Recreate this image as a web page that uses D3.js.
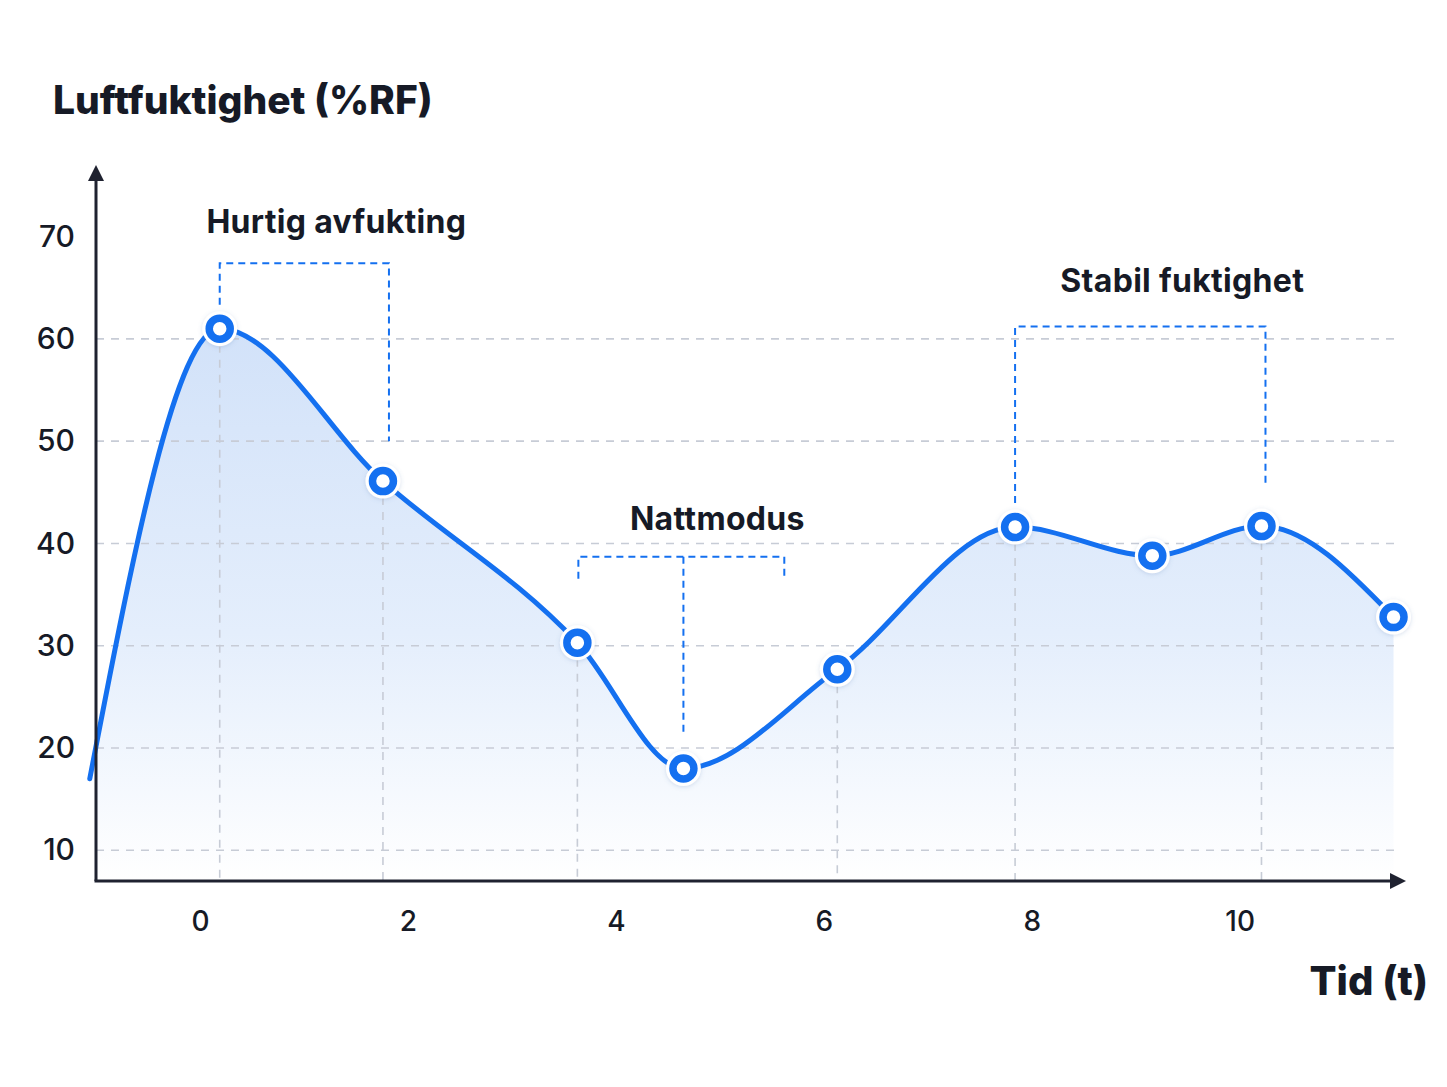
<!DOCTYPE html>
<html>
<head>
<meta charset="utf-8">
<script src="https://cdn.jsdelivr.net/npm/d3@7"></script>
<style>
  body { margin: 0; background: #fff; }
  svg { display: block; }
  text { font-family: Inter, "Noto Sans", sans-serif; fill: #161a26; }
</style>
</head>
<body>
<div id="chart"></div>
<script>
// data (time in hours, relative humidity in %)
const times = [-1.06, 0.19, 1.76, 3.63, 4.65, 6.13, 7.84, 9.16, 10.21, 11.48];
const humidity = [17.0, 61.0, 46.1, 30.3, 18.0, 27.7, 41.6, 38.8, 41.7, 32.8];
const markerIdx = [1, 2, 3, 4, 5, 6, 7, 8, 9];
const dropIdx = [1, 2, 3, 5, 6, 8];   // points with a grey drop line
const xTicks = [0, 2, 4, 6, 8, 10];
const yTicks = [10, 20, 30, 40, 50, 60, 70];
const yGrid = [10, 20, 30, 40, 50, 60];

// annotations: label, first/last point, bracket top value
const notes = [
    {label: "Hurtig avfukting", a: 1, b: 2, top: 67.4, endB: 50, dx: 32, dy: -30},
    {label: "Nattmodus", a: 3, b: 5, top: 38.7, mid: 4, dx: 36, dy: -27},
    {label: "Stabil fuktighet", a: 6, b: 8, top: 61.2, dx: 42, dy: -35}
];

const W = 1447, H = 1087;
const blue = "#1470f0";
const grid = "#c7ccd6";

const svg = d3.select("#chart").append("svg")
    .attr("width", W)
    .attr("height", H);

const x = d3.scaleLinear().domain([-1, 11.6]).range([96, 1406]);
const y = d3.scaleLinear().domain([7, 77]).range([881, 165]);

const pts = times.map((t, i) => ({t: t, v: humidity[i]}));

// gradient for the area
const defs = svg.append("defs");
const grad = defs.append("linearGradient")
    .attr("id", "fade")
    .attr("x1", 0).attr("y1", 0).attr("x2", 0).attr("y2", 1);
grad.append("stop").attr("offset", "0%").attr("stop-color", "#d2e2f9");
grad.append("stop").attr("offset", "55%").attr("stop-color", "#e4eefc");
grad.append("stop").attr("offset", "100%").attr("stop-color", "#ffffff");

const shadow = defs.append("filter").attr("id", "halo")
    .attr("x", "-50%").attr("y", "-50%").attr("width", "200%").attr("height", "200%");
shadow.append("feDropShadow")
    .attr("dx", 0).attr("dy", 1).attr("stdDeviation", 2)
    .attr("flood-color", "#5a7fb5").attr("flood-opacity", 0.25);

svg.append("clipPath").attr("id", "plot")
    .append("rect")
    .attr("x", x(-1)).attr("y", 0)
    .attr("width", W).attr("height", y(7));

// area under the curve
const area = d3.area()
    .x(d => x(d.t))
    .y0(y(7))
    .y1(d => y(d.v))
    .curve(d3.curveMonotoneX);

svg.append("path")
    .datum(pts)
    .attr("d", area)
    .attr("clip-path", "url(#plot)")
    .attr("fill", "url(#fade)");

// horizontal grid
svg.append("g").selectAll("line")
    .data(yGrid)
    .join("line")
    .attr("x1", x(-1)).attr("x2", x(11.55))
    .attr("y1", d => y(d)).attr("y2", d => y(d))
    .attr("stroke", grid)
    .attr("stroke-width", 1.6)
    .attr("stroke-dasharray", "8 7");

// drop lines
svg.append("g").selectAll("line")
    .data(dropIdx.map(i => pts[i]))
    .join("line")
    .attr("x1", d => x(d.t)).attr("x2", d => x(d.t))
    .attr("y1", d => y(d.v) + 16).attr("y2", y(7))
    .attr("stroke", grid)
    .attr("stroke-width", 1.6)
    .attr("stroke-dasharray", "8 7");

// annotation brackets
const bracket = svg.append("g")
    .attr("fill", "none")
    .attr("stroke", blue)
    .attr("stroke-width", 2)
    .attr("stroke-dasharray", "7 5");

notes.forEach(n => {
    const pa = pts[n.a], pb = pts[n.b];
    const yt = y(n.top);
    let xa, xb;
    if (n.mid !== undefined) {
        const pm = pts[n.mid];
        xa = x(pa.t) + 1;
        xb = x(pb.t) - 53;
        bracket.append("path")
            .attr("d", `M${xa},${yt + 22} V${yt} H${xb} V${yt + 22}`);
        bracket.append("path")
            .attr("d", `M${x(pm.t)},${yt} V${y(pm.v) - 32}`);
    } else {
        xa = x(pa.t);
        xb = x(pb.t) + (n.endB ? 6 : 4);
        const yb = n.endB ? y(n.endB) : y(pb.v) - 40;
        bracket.append("path")
            .attr("d", `M${xa},${y(pa.v) - 24} V${yt} H${xb} V${yb}`);
    }
    n.cx = (xa + xb) / 2 + n.dx;
    n.ty = yt + n.dy;
});

svg.append("g").selectAll("text")
    .data(notes)
    .join("text")
    .attr("x", d => d.cx)
    .attr("y", d => d.ty)
    .attr("text-anchor", "middle")
    .attr("font-size", 32)
    .attr("font-weight", 700)
    .attr("letter-spacing", 0.3)
    .text(d => d.label);

// line
const line = d3.line()
    .x(d => x(d.t))
    .y(d => y(d.v))
    .curve(d3.curveMonotoneX);

svg.append("path")
    .datum(pts)
    .attr("d", line)
    .attr("fill", "none")
    .attr("stroke", blue)
    .attr("stroke-width", 5)
    .attr("stroke-linecap", "round");

// markers
const marks = svg.append("g").selectAll("g")
    .data(markerIdx.map(i => pts[i]))
    .join("g")
    .attr("transform", d => `translate(${x(d.t)},${y(d.v)})`);
marks.append("circle")
    .attr("r", 17.5)
    .attr("fill", "#fff")
    .attr("filter", "url(#halo)");
marks.append("circle")
    .attr("r", 10.5)
    .attr("fill", "#fff")
    .attr("stroke", blue)
    .attr("stroke-width", 7.5);

// axes
const axisColor = "#1f2230";
svg.append("line")
    .attr("x1", x(-1)).attr("x2", x(-1))
    .attr("y1", y(7)).attr("y2", y(77) + 8)
    .attr("stroke", axisColor).attr("stroke-width", 3);
svg.append("line")
    .attr("x1", x(-1) - 1.5).attr("x2", x(11.6) - 8)
    .attr("y1", y(7)).attr("y2", y(7))
    .attr("stroke", axisColor).attr("stroke-width", 3);
svg.append("path")
    .attr("d", `M${x(-1)},${y(77)} l-8,16 h16 z`)
    .attr("fill", axisColor);
svg.append("path")
    .attr("d", `M${x(11.6)},${y(7)} l-16,-8 v16 z`)
    .attr("fill", axisColor);

const yAxis = d3.axisLeft(y).tickValues(yTicks).tickSize(0).tickPadding(21);
svg.append("g")
    .attr("transform", `translate(${x(-1)},0)`)
    .call(yAxis)
    .call(g => g.select(".domain").remove())
    .selectAll("text")
    .attr("font-size", 30)
    .attr("font-weight", 500)
    .attr("fill", "#161a26");

const xAxis = d3.axisBottom(x).tickValues(xTicks).tickSize(0).tickPadding(30);
svg.append("g")
    .attr("transform", `translate(0,${y(7)})`)
    .call(xAxis)
    .call(g => g.select(".domain").remove())
    .selectAll("text")
    .attr("font-size", 28)
    .attr("font-weight", 500)
    .attr("fill", "#161a26");

svg.selectAll(".tick text").attr("font-family", "Inter, 'Noto Sans', sans-serif");

// titles
svg.append("text")
    .attr("x", 53).attr("y", 114)
    .attr("font-size", 39)
    .attr("font-weight", 800)
    .text("Luftfuktighet (%RF)");

svg.append("text")
    .attr("x", 1428).attr("y", 995)
    .attr("text-anchor", "end")
    .attr("font-size", 40)
    .attr("font-weight", 800)
    .text("Tid (t)");
</script>
</body>
</html>
